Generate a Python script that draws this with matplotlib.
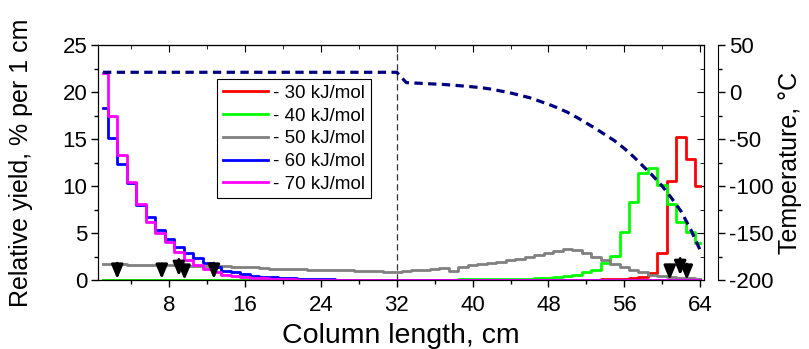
import numpy as np
import matplotlib
matplotlib.use("Agg")
import matplotlib.pyplot as plt
from matplotlib.ticker import MultipleLocator

plt.rcParams['font.family'] = ['Liberation Sans', 'DejaVu Sans']
plt.rcParams['axes.unicode_minus'] = False

# one bin per centimetre of column
column_cm = np.arange(1, 65)

yield_30 = [0.0] * 49 + [0.02, 0.03, 0.04, 0.05, 0.06, 0.08, 0.1, 0.2, 0.3,
                         0.75, 2.9, 10.5, 15.2, 12.9, 10.0]

yield_40 = [0.0] * 29 + [0.01, 0.02, 0.02, 0.03, 0.03, 0.04, 0.04, 0.05, 0.05,
                         0.06, 0.06, 0.07, 0.08, 0.09, 0.1, 0.12, 0.14, 0.17,
                         0.22, 0.3, 0.4, 0.5, 0.8, 1.1, 1.8, 2.6, 5.1, 8.3,
                         11.4, 11.9, 10.1, 8.1, 6.2, 5.1, 3.9]

yield_50 = [1.67, 1.66, 1.65, 1.63, 1.62, 1.60, 1.58, 1.56, 1.55, 1.53,
            1.51, 1.50, 1.48, 1.46, 1.43, 1.42, 1.38, 1.30, 1.22, 1.18,
            1.16, 1.14, 1.10, 1.08, 1.06, 1.05, 1.04, 1.00, 0.97, 0.95,
            0.90, 0.89, 1.00, 1.04, 1.08, 1.20, 1.24, 0.96, 1.42, 1.58,
            1.65, 1.85, 1.95, 2.12, 2.22, 2.48, 2.62, 2.84, 3.08, 3.35,
            3.22, 2.90, 2.50, 2.10, 1.75, 1.40, 1.06, 0.80, 0.58, 0.38,
            0.28, 0.20, 0.16, 0.15]

yield_60 = [18.3, 15.1, 12.3, 10.3, 8.0, 6.7, 5.3, 4.4, 3.5, 2.9,
            2.3, 1.8, 1.35, 1.0, 0.8, 0.6, 0.45, 0.35, 0.28, 0.22,
            0.17, 0.13, 0.1, 0.08, 0.06, 0.05, 0.04, 0.03, 0.02, 0.01] + [0.0] * 34

yield_70 = [22.0, 17.4, 13.3, 10.4, 8.1, 6.2, 5.0, 4.0, 3.0, 2.1,
            1.55, 1.15, 0.8, 0.55, 0.4, 0.3, 0.22, 0.16, 0.12, 0.09,
            0.07, 0.05, 0.04, 0.03, 0.02, 0.01] + [0.0] * 38

temperature = [21.0] * 32 + [10, 9.5, 9, 8.5, 8, 7.2, 6.4, 5.5, 4.5, 3,
                             1, -1, -3.5, -6, -9.5, -13, -17, -21.5, -27, -33,
                             -39, -45.5, -52, -60, -69, -79, -89, -100, -113, -127,
                             -146, -168]

# arrows: x position, top and tip (in % per 1 cm)
arrow_x = [2.5, 7.2, 9.0, 9.6, 12.7, 60.8, 61.9, 62.6]
arrow_top = [1.8, 1.7, 2.2, 1.6, 1.8, 1.6, 2.3, 1.7]
arrow_tip = [0.1, 0.1, 0.4, 0.0, 0.1, 0.0, 0.5, 0.0]

series = [(yield_30, '#ff0000', '- 30 kJ/mol'),
          (yield_40, '#00ff00', '- 40 kJ/mol'),
          (yield_50, '#808080', '- 50 kJ/mol'),
          (yield_60, '#0000ff', '- 60 kJ/mol'),
          (yield_70, '#ff00ff', '- 70 kJ/mol')]

fig, ax = plt.subplots(figsize=(8.09, 3.49), dpi=100)
fig.subplots_adjust(left=0.1215, right=0.8706, bottom=0.1977, top=0.871)

for vals, col, lab in series:
    ax.step(column_cm, vals, where='mid', color=col, lw=2.0, label=lab)

ax.axvline(32, color='#333333', lw=0.9, ls=(0, (5, 3)))

for x, top, tip in zip(arrow_x, arrow_top, arrow_tip):
    ax.annotate('', xy=(x, tip), xytext=(x, top),
                arrowprops=dict(arrowstyle='-|>,head_length=0.6,head_width=0.25',
                                color='k', lw=2.0, mutation_scale=14,
                                shrinkA=0, shrinkB=0))

ax.set_xlim(0.5, 64.45)
ax.set_ylim(0, 25)
ax.xaxis.set_major_locator(MultipleLocator(8))
ax.xaxis.set_minor_locator(MultipleLocator(4))
ax.yaxis.set_major_locator(MultipleLocator(5))
ax.yaxis.set_minor_locator(MultipleLocator(2.5))
ax.tick_params(which='both', direction='out', labelsize=16, width=1.0)
ax.tick_params(which='major', length=5, pad=3)
ax.tick_params(which='minor', length=3)
ax.tick_params(axis='x', which='major', pad=6)

ax.set_xlabel('Column length, cm', fontsize=20.5)
ax.set_ylabel('Relative yield, % per 1 cm', fontsize=18)
ax.xaxis.set_label_coords(0.5, -0.185)
ax.yaxis.set_label_coords(-0.108, 0.5)

# mirrored inward ticks on top and right
top = ax.secondary_xaxis('top')
top.xaxis.set_major_locator(MultipleLocator(8))
top.xaxis.set_minor_locator(MultipleLocator(4))
top.tick_params(which='both', direction='in', labeltop=False)
top.tick_params(which='major', length=5)
top.tick_params(which='minor', length=3)
right = ax.secondary_yaxis('right')
right.yaxis.set_major_locator(MultipleLocator(5))
right.yaxis.set_minor_locator(MultipleLocator(2.5))
right.tick_params(which='both', direction='in', labelright=False)
right.tick_params(which='major', length=5)
right.tick_params(which='minor', length=3)

leg = ax.legend(loc='upper left', bbox_to_anchor=(0.196, 0.855), fontsize=13.5,
                frameon=True, fancybox=False, edgecolor='k', framealpha=1,
                handlelength=2.4, handletextpad=0.3, borderpad=0.3,
                labelspacing=0.3, borderaxespad=0)
leg.get_frame().set_linewidth(0.8)

axT = ax.twinx()
axT.plot(column_cm, temperature, color='#000080', lw=2.3, dashes=(2.6, 1.7))
axT.set_ylim(-200, 50)
axT.yaxis.set_major_locator(MultipleLocator(50))
axT.yaxis.set_minor_locator(MultipleLocator(25))
axT.spines['right'].set_position(('outward', 10))
axT.tick_params(which='both', direction='out', labelsize=16, width=1.0)
axT.tick_params(which='major', length=5, pad=3)
axT.tick_params(which='minor', length=3)
axT.set_ylabel('Temperature, °C', fontsize=18)
axT.yaxis.set_label_coords(1.122, 0.5)

plt.savefig('out.png', dpi=100)
